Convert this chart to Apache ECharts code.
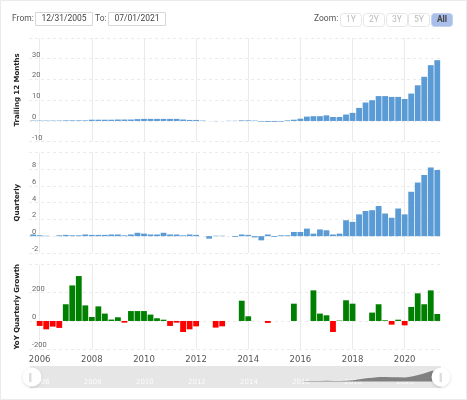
<!DOCTYPE html>
<html>
<head>
<meta charset="utf-8">
<style>
  html, body { margin: 0; padding: 0; background: #fff; }
  #place { width: 467px; height: 400px; }
</style>
<script src="https://cdn.jsdelivr.net/npm/echarts@6/dist/echarts.min.js"></script>
</head>
<body>
<div id="place"></div>
<script>
const quarters = [
  '2005-09-30',
  '2005-12-31', '2006-03-31', '2006-06-30', '2006-09-30',
  '2006-12-31', '2007-03-31', '2007-06-30', '2007-09-30',
  '2007-12-31', '2008-03-31', '2008-06-30', '2008-09-30',
  '2008-12-31', '2009-03-31', '2009-06-30', '2009-09-30',
  '2009-12-31', '2010-03-31', '2010-06-30', '2010-09-30',
  '2010-12-31', '2011-03-31', '2011-06-30', '2011-09-30',
  '2011-12-31', '2012-03-31', '2012-06-30', '2012-09-30',
  '2012-12-31', '2013-03-31', '2013-06-30', '2013-09-30',
  '2013-12-31', '2014-03-31', '2014-06-30', '2014-09-30',
  '2014-12-31', '2015-03-31', '2015-06-30', '2015-09-30',
  '2015-12-31', '2016-03-31', '2016-06-30', '2016-09-30',
  '2016-12-31', '2017-03-31', '2017-06-30', '2017-09-30',
  '2017-12-31', '2018-03-31', '2018-06-30', '2018-09-30',
  '2018-12-31', '2019-03-31', '2019-06-30', '2019-09-30',
  '2019-12-31', '2020-03-31', '2020-06-30', '2020-09-30',
  '2020-12-31', '2021-03-31'
];

const trailing = [
  0.2,
  0.2, 0.2, 0.2, 0.2, 0.3, 0.3, 0.3, 0.3,
  0.6, 0.6, 0.6, 0.6, 0.7, 0.7, 0.7, 0.9,
  1.0, 1.0, 1.0, 1.0, 1.0, 1.0, 0.7, 0.5,
  0.5, 0.2, 0.0, -0.1, 0.0, 0.1, 0.1, 0.3,
  0.3, 0.2, -0.3, -0.4, -0.4, -0.3, 0.3, 0.6,
  1.1, 2.1, 2.3, 2.3, 2.7, 1.9, 1.9, 3.1,
  3.9, 6.3, 8.9, 10.0, 12.0, 12.0, 11.6, 11.6,
  10.6, 13.2, 17.2, 21.3, 26.9, 29.3
];

const quarterly = [
  0.2,
  0.1, 0.05, 0.0, 0.1, 0.15, 0.1, 0.1, 0.2,
  0.15, 0.15, 0.15, 0.2, 0.2, 0.1, 0.2, 0.4,
  0.3, 0.2, 0.2, 0.4, 0.2, 0.2, 0.1, 0.2,
  0.15, 0.0, -0.3, 0.05, 0.05, 0.0, -0.1, 0.2,
  0.15, -0.15, -0.5, 0.2, -0.1, 0.1, 0.1, 0.5,
  0.5, 0.9, 0.3, 0.8, 0.7, 0.2, 0.3, 1.9,
  1.7, 2.6, 3.0, 3.1, 3.6, 2.7, 2.2, 3.3,
  2.6, 5.3, 6.4, 7.3, 8.2, 7.9
];

const growth = [
  null,
  -35, -59, -40, -49, 118, 251, 317, 110,
  28, 103, 52, 10, 26, -12, 70, 70,
  70, 45, 19, 9, -35, -12, -78, -59,
  -38, null, null, -47, -38, null, null, 143,
  33, null, null, -14, null, null, null, 122,
  null, null, 216, 52, 40, -78, 3, 146,
  122, null, null, 59, 118, 5, -26, 9,
  -31, 99, 195, 118, 216, 49
];

const tickYears = [2006, 2008, 2010, 2012, 2014, 2016, 2018, 2020];

const blue = '#5b9bd5';
const gridColor = '#ebebeb';
const xMin = 2005.59;
const xMax = 2021.374;
const left = 29;
const width = 411.5;

// quarter end date as a decimal year, so 12/31/2005 sits on the 2006 tick
function yearOf(d) {
  const p = d.split('-');
  return Number(p[0]) + Number(p[1]) / 12;
}

function pairs(values) {
  return values.map((v, i) => [yearOf(quarters[i]), v]);
}

function xAxis(index, showLabels) {
  return {
    type: 'value',
    gridIndex: index,
    min: xMin,
    max: xMax,
    axisLine: { show: false },
    axisTick: { show: false, customValues: tickYears },
    splitLine: { show: true, lineStyle: { color: gridColor, width: 1 } },
    axisLabel: {
      show: showLabels,
      customValues: tickYears,
      formatter: v => String(v),
      color: '#555',
      fontFamily: 'DejaVu Sans',
      fontSize: 8.5,
      margin: 6
    }
  };
}

function yAxis(index, name, min, max, interval) {
  return {
    type: 'value',
    gridIndex: index,
    min: min,
    max: max,
    interval: interval,
    name: name,
    nameLocation: 'middle',
    nameGap: -1,
    nameTextStyle: { fontFamily: 'DejaVu Sans', fontWeight: 'bold', fontSize: 7, color: '#222' },
    axisLine: { show: false },
    axisTick: { show: false },
    splitLine: { show: true, lineStyle: { color: gridColor, type: [3, 3], width: 1 } },
    axisLabel: {
      inside: true,
      margin: 3,
      showMaxLabel: false,
      verticalAlign: 'bottom',
      color: '#666',
      fontFamily: 'Roboto',
      fontSize: 7.5
    }
  };
}

function box(x, y, w, h, fill, stroke, r) {
  return { type: 'rect', z: 50, shape: { x: x, y: y, width: w, height: h, r: r || 0 }, style: { fill: fill, stroke: stroke, lineWidth: 1 } };
}

function label(x, y, text, color, weight, align) {
  return {
    type: 'text', z: 51, x: x, y: y,
    style: { text: text, fill: color, fontFamily: 'Roboto', fontSize: 8.5, fontWeight: weight || 'normal', align: align || 'center', verticalAlign: 'middle' }
  };
}

const zoomButtons = [[340, '1Y'], [363, '2Y'], [386, '3Y'], [408, '5Y'], [431, 'All']];

const graphics = [
  box(0.5, 0.5, 466, 399, 'transparent', '#ebebeb'),
  label(12, 18.5, 'From:', '#555', 'normal', 'left'),
  box(35.5, 12.5, 57, 13, '#fff', '#d8d8d8'),
  label(64, 19, '12/31/2005', '#444'),
  label(95, 18.5, 'To:', '#555', 'normal', 'left'),
  box(108.5, 12.5, 57, 13, '#fff', '#d8d8d8'),
  label(137, 19, '07/01/2021', '#444'),
  label(314, 19, 'Zoom:', '#555', 'normal', 'left'),
  box(29, 373, 2.5, 9, '#dddddd', 'transparent'),
  box(439.5, 373, 2.5, 9, '#dddddd', 'transparent')
];
zoomButtons.forEach(function (b) {
  const active = b[1] === 'All';
  graphics.push(box(b[0] + 0.5, 13.5, 21, 13, active ? '#a9bfe9' : '#fff', active ? '#c3d2ef' : '#e6e6e6', 3));
  graphics.push(label(b[0] + 11, 20, b[1], active ? '#444' : '#bbb', active ? 'bold' : 'normal'));
});

const myChart = echarts.init(document.getElementById('place'), null, { renderer: 'canvas' });
myChart.setOption({
  animation: false,
  grid: [
    { left: left, width: width, top: 38, height: 103.7 },
    { left: left, width: width, top: 152.4, height: 100.5 },
    { left: left, width: width, top: 264.3, height: 85 },
    { left: left + 1, width: width - 0.5, top: 366, height: 22, show: true, backgroundColor: '#e6e6e6', borderWidth: 0 }
  ],
  xAxis: [
    xAxis(0, false),
    xAxis(1, false),
    xAxis(2, true),
    Object.assign(xAxis(3, true), {
      splitLine: { show: false },
      axisLabel: {
        inside: true,
        customValues: tickYears,
        formatter: v => String(v),
        color: 'rgba(255,255,255,0.85)',
        fontFamily: 'DejaVu Sans',
        fontSize: 7,
        margin: 2
      }
    })
  ],
  yAxis: [
    yAxis(0, 'Trailing 12 Months', -10, 40, 10),
    yAxis(1, 'Quarterly', -2, 10, 2),
    yAxis(2, 'YoY Quarterly Growth', -200, 400, 200),
    { type: 'value', gridIndex: 3, min: -15, max: 39, show: false }
  ],
  dataZoom: [{
    type: 'slider',
    xAxisIndex: [0, 1, 2],
    filterMode: 'none',
    left: left + 1,
    width: width - 0.5,
    top: 366,
    height: 22,
    start: 0,
    end: 100,
    backgroundColor: 'transparent',
    borderColor: 'transparent',
    fillerColor: 'transparent',
    showDataShadow: false,
    showDetail: false,
    brushSelect: false,
    moveHandleSize: 0,
    handleIcon: 'circle',
    handleSize: 19,
    handleStyle: { color: '#fff', borderColor: '#fff', borderWidth: 0, shadowBlur: 3, shadowOffsetY: 1, shadowColor: 'rgba(0,0,0,0.15)' }
  }],
  graphic: { elements: graphics },
  series: [
    {
      type: 'bar', xAxisIndex: 0, yAxisIndex: 0, barWidth: 5.8,
      itemStyle: { color: blue }, data: pairs(trailing)
    },
    {
      type: 'bar', xAxisIndex: 1, yAxisIndex: 1, barWidth: 5.8,
      itemStyle: { color: blue }, data: pairs(quarterly)
    },
    {
      type: 'bar', xAxisIndex: 2, yAxisIndex: 2, barWidth: 5.8,
      itemStyle: { color: p => (p.value[1] >= 0 ? '#008000' : '#ff0000') }, data: pairs(growth)
    },
    {
      type: 'line', xAxisIndex: 3, yAxisIndex: 3, symbol: 'none', silent: true,
      lineStyle: { width: 0 },
      areaStyle: { color: '#808080', opacity: 1, origin: 1.2 },
      data: pairs(trailing.map(v => Math.max(v, 1.2)))
    }
  ]
});
</script>
</body>
</html>
